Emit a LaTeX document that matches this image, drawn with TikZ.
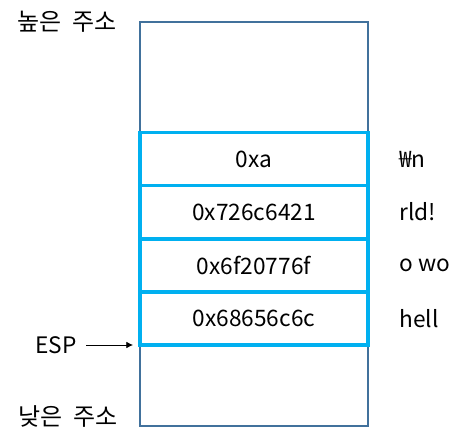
\documentclass[tikz,border=0pt]{standalone}
\usepackage{fontspec}
\setmainfont{Noto Sans CJK KR}
\usetikzlibrary{arrows.meta}
\definecolor{outerblue}{HTML}{41719C}
\definecolor{cellcyan}{HTML}{00B0F0}
\tikzset{
  px/.style={x=0.75pt,y=-0.75pt},
  cell/.style={draw=cellcyan,line width=2.4pt,fill=white,minimum width=171pt,minimum height=39.75pt,inner sep=0pt},
  frame/.style={draw=outerblue,line width=2.1pt},
  lbl/.style={font=\fontsize{17pt}{20pt}\selectfont,inner sep=0pt},
  klbl/.style={font=\fontsize{18pt}{20pt}\selectfont,inner sep=0pt},
  vlbl/.style={lbl,anchor=west},
}
\begin{document}
\begin{tikzpicture}[px]
\useasboundingbox (0,0) rectangle (470,446);
\draw[frame] (140,22) rectangle (368,426);
\node[cell] (c1) at (254,159) {};
\node[cell] (c2) at (254,212) {};
\node[cell] (c3) at (254,265.5) {};
\node[cell] (c4) at (254,318.5) {};
\node[lbl] (t1) at (c1) {0xa};
\node[lbl] (t2) at (c2) {0x726c6421};
\node[lbl] (t3) at (c3) {0x6f20776f};
\node[lbl] (t4) at (c4) {0x68656c6c};
\node[vlbl] (s1) at (399,159) {₩n};
\node[vlbl] (s2) at (399,212) {rld!};
\node[vlbl] (s3) at (399,265.5) {o wo};
\node[vlbl] (s4) at (399,318.5) {hell};
\node[klbl] (hi) at (67,22) {높은\hspace{0.45em}주소};
\node[klbl] (lo) at (68,416) {낮은\hspace{0.45em}주소};
\node[lbl] (esp) at (56,345) {ESP};
\coordinate (espfrom) at (86,345);
\coordinate (espto) at (133,345);
\draw[line width=0.6pt,-{Latex[length=5pt,width=5pt]}] (espfrom) -- (espto);
\end{tikzpicture}
\end{document}
